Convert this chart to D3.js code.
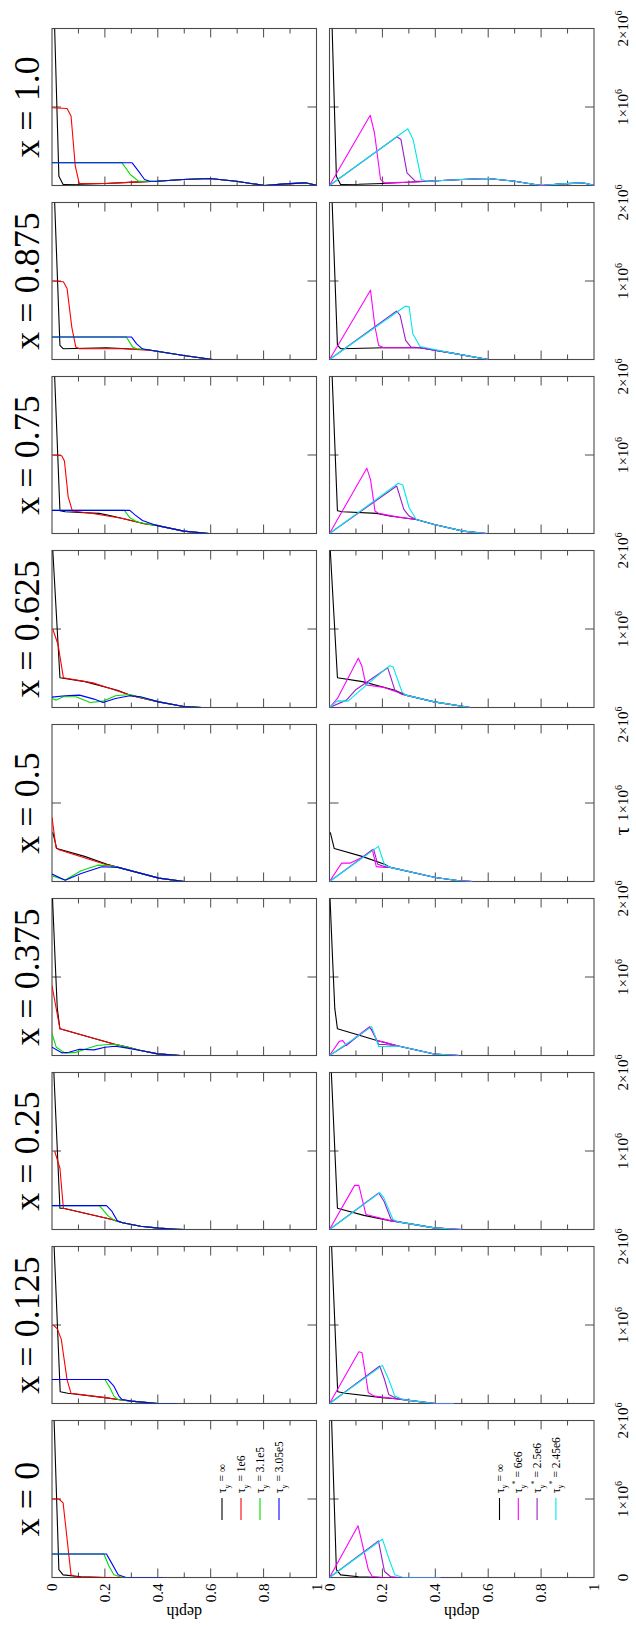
<!DOCTYPE html>
<html>
<head>
<meta charset="utf-8">
<script src="https://cdn.jsdelivr.net/npm/d3@7"></script>
<style>
body{margin:0;background:#fff;}
text{font-family:"Liberation Serif","DejaVu Serif",serif;fill:#000;}
</style>
</head>
<body>
<div id="chart"></div>
<script>
// column titles (value of x for each column)
let x_values = ['0','0.125','0.25','0.375','0.5','0.625','0.75','0.875','1.0'];
let depth_ticks = [0,0.2,0.4,0.6,0.8,1];
let depth_minor = [0.1,0.2,0.3,0.4,0.5,0.6,0.7,0.8,0.9];
let tau_ticks = [0,1,2];   // in units of 1e6

let top_legend = [['∞',''],['1e6',''],['3.1e5',''],['3.05e5','']];
let bottom_legend = [['∞',''],['6e6','*'],['2.5e6','*'],['2.45e6','*']];

// curves: [depth, tau/1e6], one list per column
let black_curves = [
    [[0.008,2.0],[0.026,0.1],[0.042,0.034],[0.11,0.01],[0.2,0]],
    [[0.008,2.0],[0.031,0.15],[0.06,0.13],[0.2,0.075]],
    [[0.007,2.0],[0.03,0.27]],
    [[0.002,2.0],[0.012,1.2],[0.02,0.6],[0.03,0.34]],
    [[0.003,0.626],[0.018,0.42],[0.123,0.32],[0.208,0.22]],
    [[0.003,2.0],[0.03,0.38],[0.125,0.33],[0.247,0.22]],
    [[0.01,2.0],[0.03,0.29],[0.05,0.277],[0.179,0.256],[0.227,0.222]],
    [[0.01,2.0],[0.03,0.18],[0.043,0.136],[0.206,0.149]],
    [[0.01,2.0],[0.026,0.119],[0.042,0.013],[0.11,0.015],[0.2,0.026]]
];
let red_curves = [
    [[0,1.0],[0.026,1.0],[0.042,0.95],[0.072,0.034],[0.088,0.01],[0.2,0]],
    [[0.005,1.0],[0.02,0.95],[0.035,0.82],[0.057,0.3],[0.072,0.13],[0.2,0.075]],
    [[0.01,1.0],[0.03,0.78],[0.043,0.27],[0.227,0.127]],
    [[0,0.89],[0.03,0.34]],
    [[0,0.817],[0.015,0.434],[0.026,0.404],[0.2,0.22],[0.25,0.18]],
    [[0.003,1.0],[0.023,0.8],[0.043,0.38],[0.16,0.31],[0.294,0.158]],
    [[0.003,1.0],[0.037,0.99],[0.047,0.925],[0.061,0.47],[0.077,0.286],[0.159,0.252],[0.268,0.192],[0.349,0.124]],
    [[0.003,1.0],[0.043,0.99],[0.057,0.904],[0.075,0.41],[0.09,0.158],[0.104,0.136],[0.267,0.136],[0.362,0.12]],
    [[0,0.99],[0.057,0.98],[0.072,0.885],[0.088,0.247],[0.103,0.026],[0.203,0.026],[0.311,0.043]]
];
let green_curves = [
    [[0,0.30],[0.196,0.30],[0.216,0.14],[0.234,0.034],[0.265,0]],
    [[0,0.306],[0.2,0.306],[0.219,0.2],[0.234,0.094],[0.25,0.05]],
    [[0,0.304],[0.179,0.304],[0.213,0.17],[0.24,0.11]],
    [[0,0.28],[0.016,0.106],[0.05,0.03],[0.09,0.04],[0.13,0.085],[0.17,0.127],[0.21,0.14],[0.24,0.14]],
    [[0,0.072],[0.05,0.02],[0.11,0.136],[0.173,0.208],[0.22,0.2],[0.25,0.18]],
    [[0,0.115],[0.016,0.094],[0.043,0.136],[0.09,0.136],[0.145,0.064],[0.193,0.081],[0.24,0.149],[0.294,0.166]],
    [[0,0.294],[0.274,0.294],[0.294,0.2],[0.32,0.149],[0.36,0.12]],
    [[0,0.286],[0.281,0.286],[0.305,0.158],[0.32,0.136]],
    [[0,0.289],[0.265,0.289],[0.296,0.14],[0.327,0.055]]
];
let blue_curves = [
    [[0,0.30],[0.206,0.30],[0.226,0.18],[0.25,0.034],[0.28,0]],
    [[0,0.306],[0.211,0.306],[0.234,0.22],[0.253,0.094],[0.265,0.05]],
    [[0,0.304],[0.206,0.304],[0.227,0.23],[0.247,0.11]],
    [[0,0.106],[0.037,0.034],[0.064,0.042],[0.104,0.08],[0.159,0.072],[0.2,0.106],[0.24,0.118],[0.28,0.097]],
    [[0,0.094],[0.05,0.017],[0.11,0.102],[0.188,0.187],[0.25,0.18]],
    [[0,0.132],[0.05,0.149],[0.104,0.158],[0.159,0.107],[0.193,0.064],[0.24,0.115],[0.294,0.149],[0.335,0.136]],
    [[0,0.294],[0.294,0.294],[0.315,0.234],[0.342,0.166],[0.39,0.107]],
    [[0,0.286],[0.301,0.286],[0.32,0.2],[0.342,0.136]],
    [[0,0.289],[0.303,0.289],[0.327,0.183],[0.35,0.077],[0.37,0.055]]
];
let magenta_curves = [
    [[0,0],[0.108,0.658],[0.147,0.098],[0.162,0.013],[0.2,0]],
    [[0,0],[0.111,0.66],[0.123,0.647],[0.139,0.306],[0.147,0.136],[0.17,0.094]],
    [[0,0],[0.095,0.562],[0.111,0.562],[0.132,0.27],[0.138,0.19]],
    [[0,0],[0.037,0.18],[0.05,0.19],[0.064,0.127],[0.104,0.245],[0.152,0.368],[0.179,0.19],[0.206,0.17]],
    [[0,0],[0.046,0.234],[0.077,0.234],[0.123,0.306],[0.162,0.404],[0.177,0.19],[0.208,0.18]],
    [[0,0],[0.03,0.115],[0.109,0.627],[0.122,0.533],[0.138,0.286],[0.206,0.256],[0.26,0.19]],
    [[0,0],[0.141,0.832],[0.155,0.69],[0.172,0.286],[0.186,0.256],[0.26,0.209]],
    [[0,0],[0.155,0.883],[0.172,0.414],[0.186,0.179],[0.206,0.149],[0.301,0.149]],
    [[0,0],[0.154,0.894],[0.17,0.672],[0.193,0.077],[0.208,0.034],[0.309,0.043]]
];
let purple_curves = [
    [[0,0],[0.185,0.467],[0.208,0.076],[0.23,0.013],[0.26,0]],
    [[0,0],[0.19,0.477],[0.208,0.306],[0.224,0.115],[0.25,0.07]],
    [[0,0],[0.186,0.465],[0.206,0.36],[0.233,0.127]],
    [[0,0],[0.07,0.148],[0.152,0.36],[0.165,0.3],[0.186,0.14],[0.21,0.14]],
    [[0,0],[0.167,0.41],[0.182,0.22],[0.208,0.19]],
    [[0,0],[0.064,0.094],[0.098,0.222],[0.22,0.507],[0.247,0.222],[0.274,0.166]],
    [[0,0],[0.254,0.605],[0.281,0.307],[0.301,0.222]],
    [[0,0],[0.254,0.618],[0.267,0.563],[0.288,0.243],[0.308,0.158]],
    [[0,0],[0.255,0.621],[0.27,0.587],[0.293,0.162],[0.324,0.055]]
];
let cyan_curves = [
    [[0,0],[0.2,0.488],[0.224,0.246],[0.247,0.034],[0.278,0]],
    [[0,0],[0.2,0.485],[0.224,0.306],[0.247,0.094],[0.278,0.05]],
    [[0,0],[0.19,0.47],[0.206,0.4],[0.24,0.127]],
    [[0,0],[0.159,0.368],[0.186,0.114],[0.213,0.114]],
    [[0,0],[0.185,0.447],[0.208,0.21],[0.23,0.18]],
    [[0,0],[0.03,0.085],[0.07,0.081],[0.125,0.243],[0.227,0.533],[0.24,0.52],[0.274,0.2],[0.288,0.158]],
    [[0,0],[0.26,0.64],[0.277,0.618],[0.301,0.328],[0.328,0.179]],
    [[0,0],[0.288,0.682],[0.301,0.67],[0.315,0.328],[0.342,0.166]],
    [[0,0],[0.296,0.723],[0.316,0.587],[0.347,0.077],[0.37,0.055]]
];
// shared deep part of the profiles (where the curves fall together)
let top_tails = [
    [[0.3,0],[0.42,0]],
    [[0.25,0.05],[0.3,0.03],[0.4,0],[0.47,0]],
    [[0.043,0.27],[0.227,0.127],[0.267,0.085],[0.335,0.042],[0.403,0.017],[0.47,0.004],[0.5,0]],
    [[0.24,0.14],[0.28,0.11],[0.335,0.063],[0.40,0.021],[0.485,0]],
    [[0.25,0.18],[0.404,0.043],[0.5,0]],
    [[0.294,0.158],[0.403,0.072],[0.498,0.013],[0.566,0]],
    [[0.349,0.124],[0.39,0.107],[0.498,0.03],[0.593,0]],
    [[0.362,0.124],[0.498,0.051],[0.607,0]],
    [[0.311,0.043],[0.396,0.055],[0.496,0.077],[0.596,0.089],[0.696,0.055],[0.804,0],[0.881,0.021],[0.958,0.034],[1.0,0.004]]
];
let bottom_tails = [
    [[0.3,0],[0.42,0]],
    [[0.17,0.094],[0.25,0.06],[0.3,0.04],[0.4,0],[0.47,0]],
    [[0.13,0.18],[0.233,0.11],[0.26,0.097],[0.396,0.021],[0.478,0.004],[0.5,0]],
    [[0.179,0.19],[0.26,0.12],[0.396,0.02],[0.49,0]],
    [[0.23,0.18],[0.40,0.05],[0.49,0.01],[0.54,0]],
    [[0.288,0.158],[0.396,0.072],[0.532,0]],
    [[0.328,0.179],[0.396,0.115],[0.505,0.03],[0.593,0]],
    [[0.342,0.149],[0.464,0.081],[0.6,0]],
    [[0.37,0.055],[0.5,0.077],[0.6,0.089],[0.7,0.055],[0.8,0],[0.88,0.021],[0.957,0.034],[1.0,0.002]]
];

let top_colors = ['#000000','#ff0000','#00dd00','#0000ff'];
let bottom_colors = ['#000000','#ff00ff','#9a1ed0','#00e8e8'];

// landscape layout, rotated a quarter turn at the end
const fig_w = 1626, fig_h = 636;
const col_left = 48.5, col_step = 174, panel_w = 157;
const row_top = [52, 329.5], panel_h = 264.5;

let svg = d3.select('#chart').append('svg')
    .attr('width',fig_h)
    .attr('height',fig_w);

let fig = svg.append('g')
    .attr('transform','translate(0,'+fig_w+') rotate(-90)');

function withTail(pts, tail){
    let last = pts[pts.length-1][0];
    return pts.concat(tail.filter(p=>p[0]>last+1e-9));
}

function draw_panel(i, row){
    const left = col_left + i*col_step;
    const top = row_top[row];
    const xScale = d3.scaleLinear().domain([0,2]).range([left,left+panel_w]);
    const yScale = d3.scaleLinear().domain([0,1]).range([top,top+panel_h]);

    let panel = fig.append('g').attr('class','panel_'+i+'_'+row);

    panel.append('clipPath')
        .attr('id','clip_'+i+'_'+row)
        .append('rect')
        .attr('x',left).attr('y',top)
        .attr('width',panel_w).attr('height',panel_h);

    // border
    panel.append('rect')
        .attr('x',left).attr('y',top)
        .attr('width',panel_w).attr('height',panel_h)
        .attr('fill','none')
        .attr('stroke','#4a4a4a')
        .attr('stroke-width',1.1);

    // depth ticks on both sides, pointing in
    depth_minor.forEach(function(d){
        let len = (Math.round(d*10)%2===0) ? 9 : 5;
        let y = yScale(d);
        panel.append('line')
            .attr('x1',left).attr('x2',left+len)
            .attr('y1',y).attr('y2',y)
            .attr('stroke','#4a4a4a').attr('stroke-width',1);
        panel.append('line')
            .attr('x1',left+panel_w).attr('x2',left+panel_w-len)
            .attr('y1',y).attr('y2',y)
            .attr('stroke','#4a4a4a').attr('stroke-width',1);
    });
    // tau tick at 1e6, top and bottom
    let tx = xScale(1);
    panel.append('line')
        .attr('x1',tx).attr('x2',tx)
        .attr('y1',top).attr('y2',top+9)
        .attr('stroke','#4a4a4a').attr('stroke-width',1);
    panel.append('line')
        .attr('x1',tx).attr('x2',tx)
        .attr('y1',top+panel_h).attr('y2',top+panel_h-9)
        .attr('stroke','#4a4a4a').attr('stroke-width',1);

    let line = d3.line()
        .x(d=>xScale(d[1]))
        .y(d=>yScale(d[0]));

    let sets, tails, colors;
    if(row===0){
        sets = [black_curves[i],red_curves[i],green_curves[i],blue_curves[i]];
        tails = top_tails[i];
        colors = top_colors;
    }
    else{
        sets = [black_curves[i],magenta_curves[i],purple_curves[i],cyan_curves[i]];
        tails = bottom_tails[i];
        colors = bottom_colors;
    }

    let curves = panel.append('g').attr('clip-path','url(#clip_'+i+'_'+row+')');
    sets.forEach(function(pts,k){
        curves.append('path')
            .datum(withTail(pts,tails))
            .attr('d',line)
            .attr('fill','none')
            .attr('stroke',colors[k])
            .attr('stroke-width',1.1)
            .attr('stroke-linejoin','round');
    });

    // depth labels only on the first column
    if(i===0){
        depth_ticks.forEach(function(d){
            panel.append('text')
                .text(d)
                .attr('x',left-6)
                .attr('y',yScale(d)+5)
                .attr('text-anchor','end')
                .style('font-size','15px');
        });
        panel.append('text')
            .text('depth')
            .attr('transform','translate(19,'+(top+panel_h/2)+') rotate(-90)')
            .attr('text-anchor','middle')
            .style('font-size','16px');

        let legend = (row===0) ? top_legend : bottom_legend;
        legend.forEach(function(item,k){
            let ly = top + 170 + k*(row===0 ? 19 : 18.8);
            panel.append('line')
                .attr('x1',left+57.5).attr('x2',left+79.5)
                .attr('y1',ly).attr('y2',ly)
                .attr('stroke',colors[k]).attr('stroke-width',1.1);
            let t = panel.append('text')
                .attr('x',left+84.5)
                .attr('y',ly+4)
                .style('font-size','11.5px');
            t.append('tspan').text('τ');
            t.append('tspan').text('y').attr('dy',3.5).style('font-size','8px');
            if(item[1]!==''){
                t.append('tspan').text(item[1]).attr('dy',-8).style('font-size','8px');
                t.append('tspan').text(' = '+item[0]).attr('dy',4.5);
            }
            else{
                t.append('tspan').text(' = '+item[0]).attr('dy',-3.5);
            }
        });
    }

    // tau labels below the lower row
    if(row===1){
        tau_ticks.forEach(function(v){
            if(v===0 && i!==0){ return; }
            let lab = panel.append('text')
                .attr('x',xScale(v))
                .attr('y',top+panel_h+34)
                .attr('text-anchor','middle')
                .style('font-size','15px');
            if(v===0){
                lab.text('0');
            }
            else{
                lab.append('tspan').text(v+'×10');
                lab.append('tspan').text('6').attr('dy',-6).style('font-size','10px');
            }
        });
    }

    if(row===0){
        fig.append('text')
            .text('x = '+x_values[i])
            .attr('x',left+panel_w/2)
            .attr('y',39)
            .attr('text-anchor','middle')
            .style('font-size','36px');
    }
}

for(let i=0;i<x_values.length;i++){
    draw_panel(i,0);
    draw_panel(i,1);
}

// axis title for tau, beside the middle tick label
fig.append('text')
    .text('τ')
    .attr('x',col_left+4*col_step+panel_w/2-28)
    .attr('y',629)
    .attr('text-anchor','middle')
    .style('font-size','22px');
</script>
</body>
</html>
